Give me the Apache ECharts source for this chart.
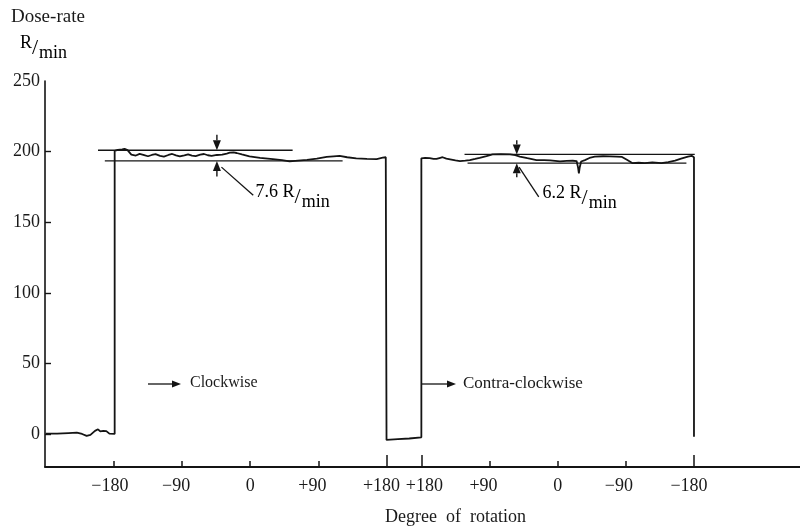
<!DOCTYPE html>
<html>
<head>
<meta charset="utf-8">
<script src="https://cdn.jsdelivr.net/npm/echarts@6/dist/echarts.min.js"></script>
<style>
  html, body { margin: 0; padding: 0; background: #fff; }
  #chart { width: 800px; height: 527px; }
</style>
</head>
<body>
<div id="chart"></div>
<script>
// Dose-rate recorded while the gantry turns through a full revolution,
// first clockwise, then contra-clockwise.

// ---- axis ticks ----
const yLabelValues = [0, 50, 100, 150, 200, 250];
const yTickValues = [0, 50, 100, 150, 200];
const cwTickAngles = [-180, -90, 0, 90, 180];
const ccTickAngles = [180, 90, 0, -90, -180];
const cwTickText = ['\u2212180', '\u221290', '0', '+90', '+180'];
const ccTickText = ['+180', '+90', '0', '\u221290', '\u2212180'];

// ---- traces: [angle in degrees, dose-rate in R/min] ----
// beam off, before the clockwise run starts
const beamOffStart = [
  [-270, 0.3], [-255, 0.2], [-240, 0.6], [-229, 0.9], [-222, 0.0], [-216, -1.4],
  [-211, -0.6], [-205, 2.2], [-201, 3.3], [-198, 1.8], [-194, 2.2], [-190, 2.0],
  [-186, 0.2], [-179, 0.0]
];
const clockwise = [
  [-179, 200.5], [-175, 201.2], [-169, 201.6], [-166, 202.0], [-162, 201.0], [-157, 197.8],
  [-151, 197.2], [-146, 198.4], [-140, 197.5], [-135, 196.7], [-130, 197.6], [-125, 198.2],
  [-119, 197.0], [-114, 196.5], [-108, 197.6], [-103, 198.3], [-98, 197.3], [-93, 196.6],
  [-87, 197.4], [-82, 198.1], [-77, 197.2], [-72, 196.8], [-66, 197.8], [-61, 198.3],
  [-56, 197.4], [-51, 197.0], [-44, 197.6], [-37, 197.8], [-31, 198.6], [-27, 199.2],
  [-22, 199.4], [-18, 199.0], [-11, 198.0], [-1, 196.6], [13, 195.6], [30, 194.7],
  [42, 194.0], [52, 193.1], [63, 193.6], [75, 194.1], [88, 195.0], [101, 196.2],
  [110, 196.6], [118, 196.9], [128, 196.0], [140, 195.2], [154, 194.8], [167, 194.7],
  [175, 195.7], [179, 196.0], [180, 195.5]
];
// beam off between the runs: [degrees past the end of the clockwise run, dose-rate]
const pause = [[0, -4.2], [15, -3.6], [30, -3.2], [46, -2.4]];
const contra = [
  [180, 195.2], [175, 195.6], [169, 195.4], [164, 194.9], [160, 194.8], [155, 195.6],
  [152, 196.0], [147, 195.0], [142, 194.5], [135, 193.8], [129, 193.3], [122, 193.6],
  [116, 194.0], [109, 194.8], [103, 195.5], [94, 196.8], [86, 198.0], [75, 198.2],
  [63, 198.0], [56, 197.5], [50, 196.5], [40, 195.3], [28, 194.0], [18, 193.9],
  [10, 193.8], [-3, 193.0], [-12, 193.4], [-20, 193.5], [-25, 193.3], [-27, 188.5],
  [-28, 184.6], [-29, 188.5], [-31, 193.0], [-36, 194.0], [-42, 195.5], [-49, 196.4],
  [-60, 196.7], [-69, 196.6], [-78, 196.5], [-85, 196.2], [-92, 194.0], [-99, 191.8],
  [-107, 192.1], [-115, 191.9], [-125, 192.3], [-137, 191.8], [-146, 192.6], [-155, 193.6],
  [-163, 195.0], [-172, 196.4], [-177, 197.0], [-179, 197.0], [-180, 196.0]
];
const beamOffEnd = [[-180, -1.9]];

// ---- fluctuation bands: [from angle, to angle, dose-rate] ----
const cwBandUpper = [-201, 56, 201.0];
const cwBandLower = [-192, 122, 193.4];      // 7.6 R/min below the upper line
const ccBandUpper = [123, -181, 198.0];
const ccBandLower = [119, -170, 191.8];      // 6.2 R/min below the upper line
const cwBandAngle = -44;
const ccBandAngle = 54;
const cwBandText = '7.6';
const ccBandText = '6.2';

// ---- mapping of each run onto one horizontal scale ----
const PAUSE = pause[pause.length - 1][0];
const cwPos = a => a;
const ccPos = a => 180 + PAUSE + (180 - a);
const X_MIN = -271, X_MAX = 726;

const INK = '#141414';
const TEXT = '#1a1a1a';
const FONT = '"Liberation Serif", "Times New Roman", serif';

const trace = [
  ...beamOffStart.map(([a, d]) => [cwPos(a), d]),
  ...clockwise.map(([a, d]) => [cwPos(a), d]),
  ...pause.map(([o, d]) => [cwPos(180) + o, d]),
  ...contra.map(([a, d]) => [ccPos(a), d]),
  ...beamOffEnd.map(([a, d]) => [ccPos(a), d])
];

const bandLine = (band, pos) => [[pos(band[0]), band[2]], [pos(band[1]), band[2]]];

// x tick labels: signed numbers hang their sign to the left of the tick
const labelNudge = [-4, -6, 0, -6, -5, 3, -6, 0, -7, -5];
const xLabelPos = [...cwTickAngles.map(cwPos), ...ccTickAngles.map(ccPos)];
const xLabelText = [...cwTickText, ...ccTickText];
const xRich = {};
labelNudge.forEach((s, i) => {
  xRich['n' + i] = {
    fontFamily: FONT, fontSize: 18, color: TEXT,
    padding: s < 0 ? [0, -2 * s, 0, 0] : [0, 0, 0, 2 * s]
  };
});
const xTallTicks = [cwPos(180), ccPos(180), ccPos(-180)];

// arrows pinching each band: [position, from dose, to dose]
const arrowData = [
  [cwPos(cwBandAngle), cwBandUpper[2] + 11, cwBandUpper[2]],
  [cwPos(cwBandAngle), cwBandLower[2] - 11, cwBandLower[2]],
  [ccPos(ccBandAngle), ccBandUpper[2] + 10, ccBandUpper[2]],
  [ccPos(ccBandAngle), ccBandLower[2] - 10, ccBandLower[2]]
];
// leader lines from the arrows to the band labels
const cwLeader = [[cwPos(cwBandAngle + 6), 189], [cwPos(cwBandAngle + 48), 169]];
const ccLeader = [[ccPos(ccBandAngle - 3), 189], [ccPos(ccBandAngle - 29), 168]];
const bandLabels = [
  [cwPos(cwBandAngle + 51), 168, cwBandText],
  [ccPos(ccBandAngle - 34), 167, ccBandText]
];

const unitRich = {
  a: { fontFamily: FONT, fontSize: 18, color: TEXT, lineHeight: 18, verticalAlign: 'top' },
  s: { fontFamily: FONT, fontSize: 22, color: TEXT, lineHeight: 28, verticalAlign: 'middle', padding: [0, 1, 0, 0] },
  m: { fontFamily: FONT, fontSize: 18, color: TEXT, lineHeight: 18, verticalAlign: 'bottom' }
};

function renderArrow(params, api) {
  const from = api.coord([api.value(0), api.value(1)]);
  const to = api.coord([api.value(0), api.value(2)]);
  const dir = Math.sign(to[1] - from[1]);
  const head = 10, half = 4;
  return {
    type: 'group',
    children: [
      { type: 'line', shape: { x1: from[0], y1: from[1], x2: to[0], y2: to[1] - dir * head },
        style: { stroke: INK, lineWidth: 1.4 } },
      { type: 'polygon',
        shape: { points: [[to[0], to[1]], [to[0] - half, to[1] - dir * head], [to[0] + half, to[1] - dir * head]] },
        style: { fill: INK } }
    ]
  };
}

function renderBandLabel(params, api) {
  const p = api.coord([api.value(0), api.value(1)]);
  return {
    type: 'text',
    x: p[0], y: p[1],
    style: {
      text: '{a|' + bandLabels[params.dataIndex][2] + ' R}{s|/}{m|min}',
      rich: unitRich,
      align: 'left', verticalAlign: 'middle'
    }
  };
}

const lineSeries = (data, width) => ({
  type: 'line', data, showSymbol: false, symbol: 'none', silent: true,
  lineStyle: { color: INK, width }, animation: false
});

const chart = echarts.init(document.getElementById('chart'));
chart.setOption({
  animation: false,
  backgroundColor: '#fff',
  grid: { left: 45, right: 0, top: 81, bottom: 60, containLabel: false, outerBoundsMode: 'none' },
  xAxis: [
    {
      type: 'value', min: X_MIN, max: X_MAX, position: 'bottom',
      axisLine: { onZero: false, lineStyle: { color: INK, width: 1.8 } },
      axisTick: { inside: true, length: 6, customValues: xLabelPos, lineStyle: { color: INK, width: 1.5 } },
      axisLabel: {
        customValues: xLabelPos, margin: 10,
        formatter: v => {
          const i = xLabelPos.findIndex(p => Math.abs(p - v) < 1e-6);
          return i < 0 ? '' : '{n' + i + '|' + xLabelText[i] + '}';
        },
        rich: xRich, fontFamily: FONT, fontSize: 18, color: TEXT
      },
      splitLine: { show: false }
    },
    {
      type: 'value', min: X_MIN, max: X_MAX, position: 'bottom', offset: 0,
      axisLine: { show: false, onZero: false },
      axisTick: { inside: true, length: 12, customValues: xTallTicks, lineStyle: { color: INK, width: 1.5 } },
      axisLabel: { show: false },
      splitLine: { show: false }
    }
  ],
  yAxis: {
    type: 'value', min: -23.4, max: 250,
    axisLine: { show: true, onZero: false, lineStyle: { color: INK, width: 1.6 } },
    axisTick: { show: true, inside: true, length: 6, customValues: yTickValues, lineStyle: { color: INK, width: 1.4 } },
    axisLabel: { customValues: yLabelValues, margin: 5, fontFamily: FONT, fontSize: 18, color: TEXT },
    splitLine: { show: false }
  },
  series: [
    lineSeries(trace, 1.8),
    lineSeries(bandLine(cwBandUpper, cwPos), 1.4),
    lineSeries(bandLine(cwBandLower, cwPos), 1.4),
    lineSeries(bandLine(ccBandUpper, ccPos), 1.4),
    lineSeries(bandLine(ccBandLower, ccPos), 1.4),
    lineSeries(cwLeader, 1.3),
    lineSeries(ccLeader, 1.3),
    { type: 'custom', renderItem: renderArrow, data: arrowData, silent: true, animation: false },
    { type: 'custom', renderItem: renderBandLabel, data: bandLabels.map(d => [d[0], d[1]]), silent: true, animation: false }
  ],
  graphic: [
    { type: 'text', left: 11, top: 8,
      style: { text: 'Dose-rate', font: '19px ' + FONT, fill: TEXT } },
    { type: 'text', left: 20, top: 34,
      style: { text: '{a|R}{s|/}{m|min}', rich: unitRich } },
    // direction of rotation
    { type: 'line', shape: { x1: 148, y1: 384, x2: 173, y2: 384 }, style: { stroke: INK, lineWidth: 1.3 } },
    { type: 'polygon', shape: { points: [[181, 384], [172, 380.5], [172, 387.5]] }, style: { fill: INK } },
    { type: 'text', left: 190, top: 375, style: { text: 'Clockwise', font: '16px ' + FONT, fill: TEXT } },
    { type: 'line', shape: { x1: 422, y1: 384, x2: 448, y2: 384 }, style: { stroke: INK, lineWidth: 1.3 } },
    { type: 'polygon', shape: { points: [[456, 384], [447, 380.5], [447, 387.5]] }, style: { fill: INK } },
    { type: 'text', left: 463, top: 375, style: { text: 'Contra-clockwise', font: '17px ' + FONT, fill: TEXT } },
    { type: 'text', left: 385, top: 508, style: { text: 'Degree  of  rotation', font: '18px ' + FONT, fill: TEXT } }
  ]
});
</script>
</body>
</html>
